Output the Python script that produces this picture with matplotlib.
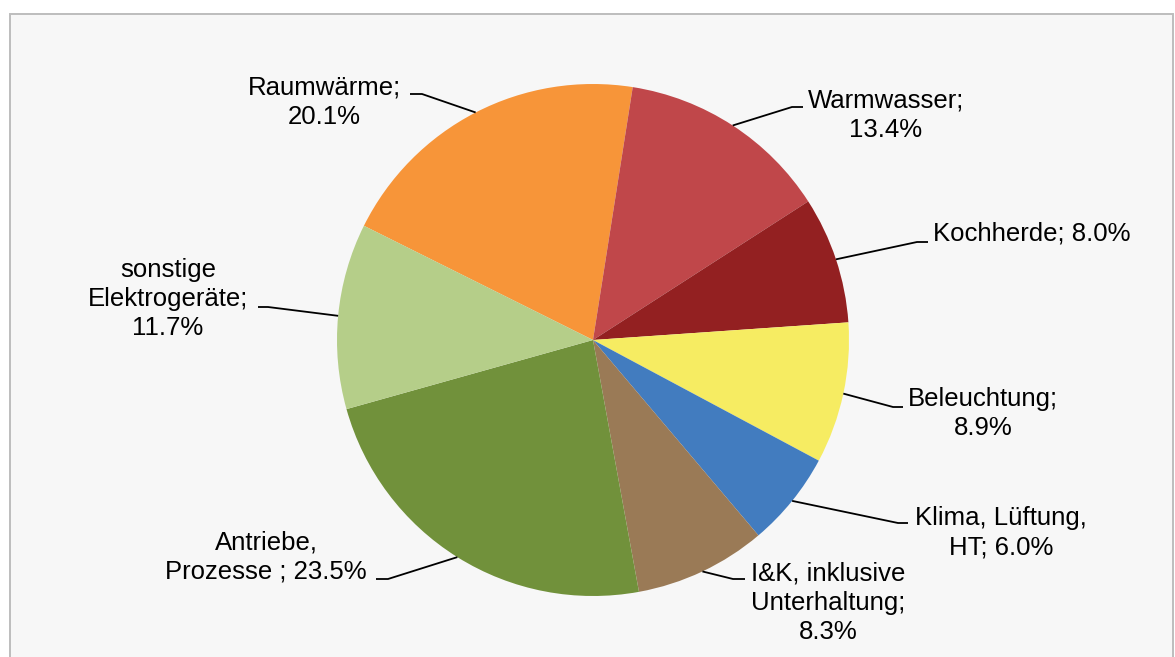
import matplotlib
matplotlib.use("Agg")
import matplotlib.pyplot as plt
from matplotlib.patches import Rectangle
import numpy as np

plt.rcParams["font.family"] = ["Liberation Sans", "DejaVu Sans"]

# data
labels = ["Raumwärme;\n20.1%", "Warmwasser;\n13.4%", "Kochherde; 8.0%",
          "Beleuchtung;\n8.9%", "Klima, Lüftung,\nHT; 6.0%",
          "I&K, inklusive\nUnterhaltung;\n8.3%", "Antriebe,\nProzesse ; 23.5%",
          "sonstige\nElektrogeräte;\n11.7%"]
shares = [20.1, 13.4, 8.0, 8.9, 6.0, 8.3, 23.5, 11.7]
colors = ["#f79539", "#c0474a", "#932021", "#f6ec62", "#427cbf",
          "#9a7a56", "#71913b", "#b5ce89"]

# label layout in pixels (y from top): text anchor (last baseline),
# end of leader near text, elbow of leader
W, H = 1175, 657
_text_pos = [(324, 124), (886, 137), (1032, 241), (983, 435),
             (1001, 554), (828, 639), (266, 579), (168, 335)]
_leader_end = [(410, 94), (803, 107), (928, 242), (903, 407),
               (908, 523), (745, 579), (376, 579), (258, 307)]
_leader_elbow = [(422, 94), (792, 107), (917, 242), (893, 407),
                 (898, 523), (733, 579), (388, 579), (268, 307)]

CX, CY, R = 593, 340, 256


def fy(y):
    return H - y


fig = plt.figure(figsize=(W / 100, H / 100), dpi=100)
ax = fig.add_axes([0, 0, 1, 1])

# chart area frame
ax.add_patch(Rectangle((9.5, -20), 1163, fy(13.5) + 20, facecolor="#f7f7f7",
                       edgecolor="#bdbdbd", linewidth=1.4, zorder=0))

wedges, _ = ax.pie(shares, colors=colors, startangle=153.5, counterclock=False,
                   radius=R, center=(CX, fy(CY)),
                   wedgeprops=dict(linewidth=0))
for w in wedges:
    w.set_zorder(2)

for i, w in enumerate(wedges):
    mid = np.deg2rad((w.theta1 + w.theta2) / 2)
    px = CX + R * np.cos(mid)
    py = fy(CY) + R * np.sin(mid)
    ex, ey = _leader_end[i]
    bx, by = _leader_elbow[i]
    ax.plot([px, bx, ex], [py, fy(by), fy(ey)], color="black", linewidth=1.3,
            zorder=3, solid_capstyle="butt")
    tx, ty = _text_pos[i]
    ax.text(tx, fy(ty), labels[i], ha="center", va="baseline",
            multialignment="center", fontsize=18.5, linespacing=1.27,
            color="black", zorder=4)

ax.set_xlim(0, W)
ax.set_ylim(0, H)
ax.set_aspect("equal")
ax.axis("off")

fig.savefig("out.png", dpi=100, facecolor="white")
